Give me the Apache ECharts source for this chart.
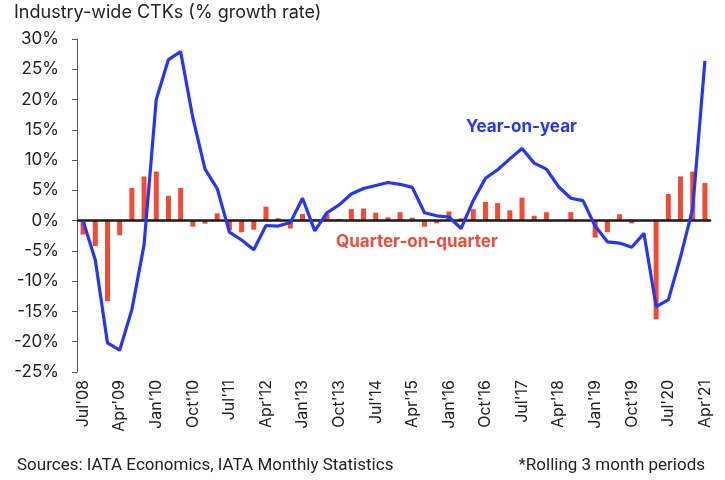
<!DOCTYPE html>
<html>
<head>
<meta charset="utf-8">
<script src="https://cdn.jsdelivr.net/npm/echarts@6.0.0/dist/echarts.min.js"></script>
<style>
  html, body { margin: 0; padding: 0; background: #fff; }
  #chart { width: 725px; height: 480px; }
</style>
</head>
<body>
<div id="chart"></div>
<script>
// quarterly periods (rolling 3 months)
const quarters = [
  "Jul'08", "Oct'08",
  "Jan'09", "Apr'09", "Jul'09", "Oct'09",
  "Jan'10", "Apr'10", "Jul'10", "Oct'10",
  "Jan'11", "Apr'11", "Jul'11", "Oct'11",
  "Jan'12", "Apr'12", "Jul'12", "Oct'12",
  "Jan'13", "Apr'13", "Jul'13", "Oct'13",
  "Jan'14", "Apr'14", "Jul'14", "Oct'14",
  "Jan'15", "Apr'15", "Jul'15", "Oct'15",
  "Jan'16", "Apr'16", "Jul'16", "Oct'16",
  "Jan'17", "Apr'17", "Jul'17", "Oct'17",
  "Jan'18", "Apr'18", "Jul'18", "Oct'18",
  "Jan'19", "Apr'19", "Jul'19", "Oct'19",
  "Jan'20", "Apr'20", "Jul'20", "Oct'20",
  "Jan'21", "Apr'21"
];

// year-on-year growth, %
const yoy = [
  0, -6.5, -20.2, -21.4, -14.7, -4.0, 20.0, 26.6, 27.9, 17.0,
  8.5, 5.3, -1.9, -3.2, -4.8, -0.8, -0.9, -0.3, 3.7, -1.7,
  1.3, 2.6, 4.4, 5.3, 5.8, 6.3, 6.0, 5.5, 1.3, 0.8,
  0.6, -1.3, 3.3, 7.0, 8.4, 10.2, 11.9, 9.5, 8.5, 5.6,
  3.7, 3.3, -0.9, -3.5, -3.7, -4.4, -2.1, -14.2, -13.1, -6.0,
  2.0, 26.4
];

// quarter-on-quarter growth, %
const qoq = [
  -2.3, -4.2, -13.3, -2.4, 5.4, 7.3, 8.1, 4.1, 5.4, -1.0,
  -0.5, 1.2, -1.6, -1.9, -1.5, 2.3, 0.4, -1.3, 1.1, 0.2,
  1.1, 0.3, 1.9, 2.0, 1.3, 0.55, 1.4, 0.5, -1.0, -0.45,
  1.5, 0.4, 1.9, 3.1, 2.9, 1.7, 3.8, 0.8, 1.4, 0.1,
  1.4, 0.05, -2.8, -1.9, 1.05, -0.45, 0, -16.3, 4.4, 7.3,
  8.1, 6.2
];

const yMin = -25, yMax = 30, yStep = 5;

const blue = '#2636f2';
const red = '#f24a35';
const font = 'Inter, "Noto Sans", sans-serif';

const chart = echarts.init(document.getElementById('chart'));
chart.setOption({
  animation: false,
  grid: { left: 77, right: 14, top: 39, bottom: 108, containLabel: false },
  xAxis: {
    type: 'category',
    data: quarters,
    boundaryGap: true,
    axisLine: { lineStyle: { color: '#555', width: 1 } },
    axisTick: { interval: 2, length: 5, lineStyle: { color: '#555' } },
    axisLabel: {
      interval: 2, rotate: 90, margin: 8,
      fontFamily: font, fontSize: 16, color: '#222'
    },
    splitLine: { show: false }
  },
  yAxis: {
    type: 'value',
    min: yMin, max: yMax, interval: yStep,
    axisLine: { show: true, lineStyle: { color: '#555', width: 1 } },
    axisTick: { show: true, length: 5, lineStyle: { color: '#555' } },
    axisLabel: {
      formatter: '{value}%', margin: 18,
      fontFamily: font, fontSize: 17, color: '#222'
    },
    splitLine: { show: false }
  },
  series: [
    {
      name: 'Quarter-on-quarter',
      type: 'bar',
      data: qoq,
      barWidth: 5,
      itemStyle: { color: red },
      z: 2,
      markLine: {
        silent: true,
        symbol: 'none',
        label: { show: false },
        lineStyle: { color: '#1a1a1a', width: 2.5, type: 'solid' },
        data: [{ yAxis: 0 }],
        z: 3
      }
    },
    {
      name: 'Year-on-year',
      type: 'line',
      data: yoy,
      showSymbol: false,
      lineStyle: { color: blue, width: 3.2 },
      itemStyle: { color: blue },
      z: 5
    }
  ],
  graphic: [
    {
      type: 'text', left: 14, top: 4,
      style: { text: 'Industry-wide CTKs (% growth rate)', font: '18px ' + font, fill: '#222' }
    },
    {
      type: 'text', left: 466, top: 118,
      style: { text: 'Year-on-year', font: 'bold 17px ' + font, fill: blue }
    },
    {
      type: 'text', left: 336, top: 233,
      style: { text: 'Quarter-on-quarter', font: 'bold 17px ' + font, fill: red }
    },
    {
      type: 'text', left: 17, top: 457,
      style: { text: 'Sources: IATA Economics, IATA Monthly Statistics', font: '17px Roboto, sans-serif', fill: '#222' }
    },
    {
      type: 'text', right: 20, top: 457,
      style: { text: '*Rolling 3 month periods', font: '17px Roboto, sans-serif', fill: '#222' }
    }
  ]
});
</script>
</body>
</html>
